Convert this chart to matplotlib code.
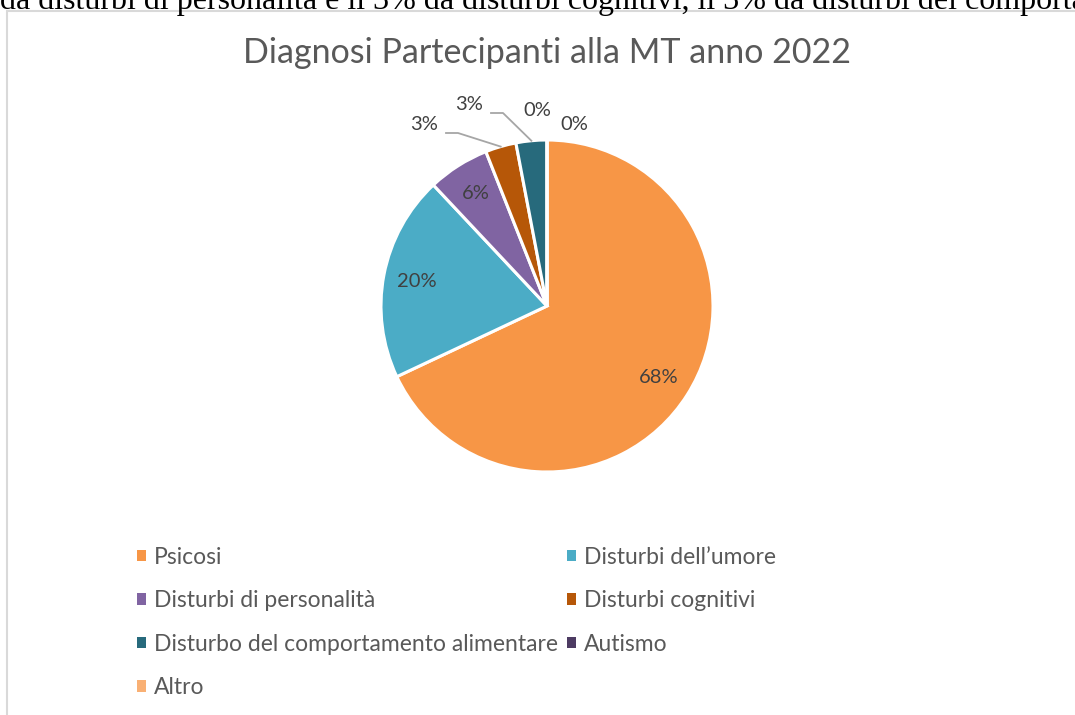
import numpy as np
import matplotlib.pyplot as plt
from matplotlib.patches import Rectangle

# dati del grafico
categorie = ['Psicosi', 'Disturbi dell’umore', 'Disturbi di personalità', 'Disturbi cognitivi',
             'Disturbo del comportamento alimentare', 'Autismo', 'Altro']
valori = [68, 20, 6, 3, 3, 0, 0]
colori = ['#F79646', '#4BACC6', '#8064A2', '#B65708', '#276A7C', '#4D3B62', '#F9B074']
etichette = ['68%', '20%', '6%', '3%', '3%', '0%', '0%']
titolo = 'Diagnosi Partecipanti alla MT anno 2022'
testo_sopra = ('da disturbi di personalità e il 3% da disturbi cognitivi, '
               'il 3% da disturbi del comportamento alimentare.')

W, H = 1075, 715
fig = plt.figure(figsize=(W / 100, H / 100), dpi=100)
ax = fig.add_axes([0, 0, 1, 1])

cx, cy, r = 547, H - 306, 166
wedges, _ = ax.pie(valori, colors=colori, startangle=90, counterclock=False,
                   center=(cx, cy), radius=r,
                   wedgeprops=dict(edgecolor='white', linewidth=2.2))
ax.set_xlim(0, W)
ax.set_ylim(0, H)
ax.axis('off')

# etichette percentuali
grigio = '#404040'
fs = 14.5
tot = sum(valori)
cum = np.cumsum([0] + valori)
# posizioni (px dall'alto) delle etichette piccole, fuori dalla torta
fuori = {3: (424, 124), 4: (469, 104), 5: (537, 110), 6: (574, 124)}
for i, v in enumerate(valori):
    mid = np.deg2rad(90 - (cum[i] + v / 2) / tot * 360)
    if i in fuori:
        tx, ty = fuori[i]
        ax.text(tx, H - ty, etichette[i], fontsize=fs, color=grigio, family='Lato',
                ha='center', va='center')
        if v > 0:
            px, py = cx + r * np.cos(mid), cy + r * np.sin(mid)
            kx, ky = tx + 22, H - (ty + 9)
            ax.plot([kx, kx + 12, px], [ky, ky, py], color='#A6A6A6', lw=1.3)
    else:
        ax.text(cx + 0.8 * r * np.cos(mid), cy + 0.8 * r * np.sin(mid), etichette[i],
                fontsize=fs, color=grigio, family='Lato', ha='center', va='center')

# titolo
fig.text(547 / W, 1 - 53 / H, titolo, fontsize=24.5, color='#595959', family='Lato',
         ha='center', va='center')

# legenda in ordine per righe
ordine = [0, 2, 4, 6, 1, 3, 5]
leg = fig.legend([wedges[i] for i in ordine], [categorie[i] for i in ordine],
                 ncol=2, loc='upper left', bbox_to_anchor=(116 / W, 1 - 526 / H),
                 frameon=False, prop={'family': 'Lato', 'size': 16.5},
                 handlelength=0.4, handleheight=0.4, handletextpad=0.35,
                 columnspacing=0.4, labelspacing=0.98)
for t in leg.get_texts():
    t.set_color('#595959')
for h in leg.legend_handles:
    h.set_edgecolor('none')

# bordo del riquadro del grafico
fig.patches.append(Rectangle((7 / W, -0.1), 1.2, 1 - 11 / H + 0.1, transform=fig.transFigure,
                             fill=False, edgecolor='#D9D9D9', lw=1.5))

# testo del documento, tagliato in alto come nello screenshot
fig.text(0, 1 - 9 / H, testo_sopra, fontsize=23, family='Liberation Serif',
         color='black', ha='left', va='baseline')

fig.savefig('out.png', dpi=100)
